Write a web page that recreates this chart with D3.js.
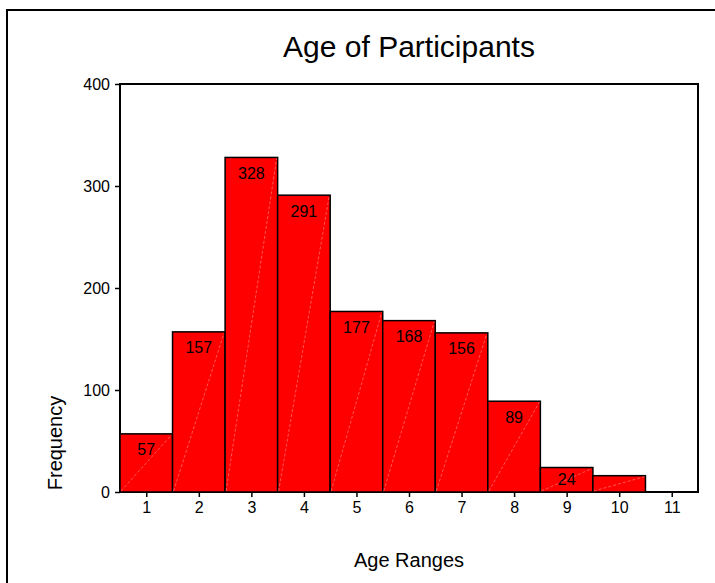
<!DOCTYPE html>
<html>
<head>
<meta charset="utf-8">
<script src="https://cdn.jsdelivr.net/npm/d3@7"></script>
<style>
  body { margin: 0; background: #fff; }
  text { font-family: "Liberation Sans", Arial, sans-serif; fill: #000; }
</style>
</head>
<body>
<script>
let width = 715,
    height = 583

// data
const ageRanges = [1, 2, 3, 4, 5, 6, 7, 8, 9, 10, 11]
const frequencies = [57, 157, 328, 291, 177, 168, 156, 89, 24, 16, 0]
const yTicks = [0, 100, 200, 300, 400]

let svg = d3.select('body').append('svg')
    .attr('width', width)
    .attr('height', height)

// outer frame (runs off the right and bottom edges)
svg.append('rect')
    .attr('x', 7)
    .attr('y', 10)
    .attr('width', 730)
    .attr('height', 600)
    .style('fill', 'none')
    .style('stroke', '#000')
    .style('stroke-width', 2)

const plotLeft = 120, plotRight = 698, plotTop = 84, plotBottom = 492

const x = d3.scaleLinear().domain([0.5, 11.5]).range([plotLeft, plotRight])
const y = d3.scaleLinear().domain([0, 400]).range([plotBottom, plotTop])

// plot box
svg.append('rect')
    .attr('x', plotLeft)
    .attr('y', plotTop)
    .attr('width', plotRight - plotLeft)
    .attr('height', plotBottom - plotTop)
    .style('fill', '#fff')
    .style('stroke', '#000')
    .style('stroke-width', 2)

let bars = svg.append('g').attr('class', 'bars')
    .selectAll('g')
    .data(ageRanges.map((a, i) => ({age: a, n: frequencies[i]})).filter(d => d.n > 0))
    .join('g')

bars.append('rect')
    .attr('x', d => x(d.age - 0.5))
    .attr('y', d => y(d.n))
    .attr('width', d => x(d.age + 0.5) - x(d.age - 0.5))
    .attr('height', d => y(0) - y(d.n))
    .style('fill', '#ff0000')
    .style('stroke', '#000')
    .style('stroke-width', 1.5)

// faint diagonal seams inside each bar
bars.append('line')
    .attr('x1', d => x(d.age - 0.5) + 1)
    .attr('y1', y(0) - 1)
    .attr('x2', d => x(d.age + 0.5) - 1)
    .attr('y2', d => y(d.n) + 1)
    .style('stroke', '#ff9090')
    .style('stroke-width', 0.6)
    .style('stroke-dasharray', '3,2')

bars.filter(d => y(0) - y(d.n) > 20)
  .append('text')
    .attr('x', d => x(d.age))
    .attr('y', d => Math.min(y(d.n) + 16, (y(d.n) + y(0)) / 2))
    .attr('text-anchor', 'middle')
    .attr('dominant-baseline', 'central')
    .style('font-size', '16px')
    .text(d => d.n)

// axes
let yAxis = svg.append('g')
    .attr('transform', 'translate(' + plotLeft + ',0)')
    .call(d3.axisLeft(y).tickValues(yTicks).tickSize(5).tickPadding(5))
yAxis.select('.domain').remove()

let xAxis = svg.append('g')
    .attr('transform', 'translate(0,' + plotBottom + ')')
    .call(d3.axisBottom(x).tickValues(ageRanges).tickSize(5).tickPadding(5))
xAxis.select('.domain').remove()

svg.selectAll('.tick line').style('stroke', '#000').style('stroke-width', 1.5)
svg.selectAll('.tick text')
    .style('font-family', '"Liberation Sans", Arial, sans-serif')
    .style('font-size', '16px')
    .style('fill', '#000')

// titles
svg.append('text')
    .attr('x', 409)
    .attr('y', 57)
    .attr('text-anchor', 'middle')
    .style('font-size', '30px')
    .text('Age of Participants')

svg.append('text')
    .attr('x', 409)
    .attr('y', 567)
    .attr('text-anchor', 'middle')
    .style('font-size', '20px')
    .text('Age Ranges')

svg.append('text')
    .attr('transform', 'translate(62,443) rotate(-90)')
    .attr('text-anchor', 'middle')
    .style('font-size', '20px')
    .text('Frequency')
</script>
</body>
</html>
